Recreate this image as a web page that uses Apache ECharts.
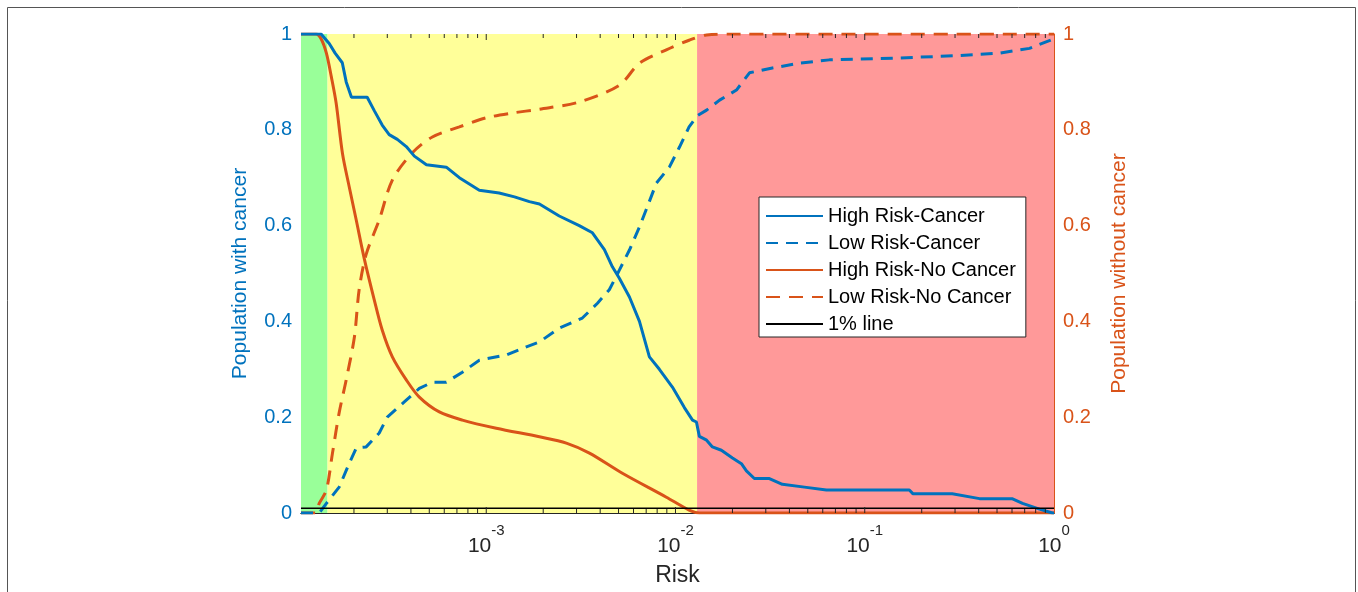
<!DOCTYPE html>
<html><head><meta charset="utf-8">
<script src="https://cdn.jsdelivr.net/npm/echarts@6/dist/echarts.min.js"></script>
<style>html,body{margin:0;padding:0;background:#fff}#c{width:1358px;height:592px}</style>
</head><body><div id="c"></div>
<script>
const xMin = 1.05e-4, xMax = 1;
const zoneEdges = [1.05e-4, 1.45e-4, 1.3e-2, 1];
const zoneColors = ['#99FF99', '#FFFF99', '#FF9999'];
const onePercent = 0.01;
const yTicks = [0, 0.2, 0.4, 0.6, 0.8, 1];
const majorTicks = [1e-3, 1e-2, 1e-1];
const minorMult = [2, 3, 4, 5, 6, 7, 8, 9];
const decades = [1e-4, 1e-3, 1e-2, 1e-1];

const hrcRisk = [1.05e-4, 1.34e-4, 1.48e-4, 1.59e-4, 1.735e-4, 1.82e-4, 1.94e-4, 2.35e-4, 2.56e-4, 2.82e-4, 3.07e-4, 3.39e-4, 3.78e-4, 4.17e-4, 4.83e-4, 6.15e-4, 7.21e-4, 9.19e-4, 1.17e-3, 1.41e-3, 1.69e-3, 1.91e-3, 2.43e-3, 3.1e-3, 3.64e-3, 4.21e-3, 4.64e-3, 5.05e-3, 5.71e-3, 6.45e-3, 7.28e-3, 8.22e-3, 9.63e-3, 1.114e-2, 1.23e-2, 1.29e-2, 1.337e-2, 1.46e-2, 1.567e-2, 1.748e-2, 2.0e-2, 2.23e-2, 2.37e-2, 2.61e-2, 3.135e-2, 3.67e-2, 4.8e-2, 6.27e-2, 0.172, 0.18, 0.29, 0.404, 0.60, 0.682, 0.838, 0.982, 1];
const hrcVal = [1, 1, 0.98, 0.96, 0.94, 0.90, 0.868, 0.868, 0.84, 0.81, 0.79, 0.78, 0.765, 0.745, 0.727, 0.722, 0.70, 0.674, 0.668, 0.66, 0.65, 0.645, 0.62, 0.60, 0.585, 0.55, 0.514, 0.49, 0.451, 0.40, 0.326, 0.30, 0.263, 0.22, 0.194, 0.19, 0.16, 0.152, 0.138, 0.131, 0.115, 0.103, 0.088, 0.072, 0.072, 0.06, 0.054, 0.048, 0.048, 0.04, 0.04, 0.03, 0.03, 0.02, 0.008, 0.0, 0];

const lrcRisk = [1.05e-4, 1.31e-4, 1.43e-4, 1.67e-4, 1.89e-4, 2.06e-4, 2.32e-4, 2.72e-4, 3.0e-4, 3.69e-4, 4.43e-4, 5.19e-4, 6.15e-4, 7.48e-4, 9.19e-4, 1.28e-3, 1.63e-3, 1.91e-3, 2.43e-3, 3.22e-3, 3.87e-3, 4.47e-3, 5.05e-3, 5.71e-3, 6.45e-3, 7.11e-3, 7.93e-3, 9.28e-3, 1.05e-2, 1.18e-2, 1.31e-2, 1.46e-2, 1.71e-2, 2.1e-2, 2.46e-2, 3.25e-2, 4.52e-2, 6.51e-2, 0.153, 0.317, 0.515, 0.742, 1];
const lrcVal = [0, 0, 0.02, 0.054, 0.104, 0.136, 0.138, 0.167, 0.2, 0.232, 0.26, 0.273, 0.273, 0.294, 0.319, 0.33, 0.347, 0.357, 0.386, 0.407, 0.438, 0.466, 0.507, 0.549, 0.597, 0.64, 0.689, 0.722, 0.764, 0.806, 0.83, 0.841, 0.862, 0.883, 0.919, 0.929, 0.939, 0.946, 0.95, 0.955, 0.96, 0.97, 0.99];

const hrncRisk = [1.05e-4, 1.26e-4, 1.34e-4, 1.43e-4, 1.52e-4, 1.61e-4, 1.74e-4, 1.89e-4, 2.06e-4, 2.27e-4, 2.56e-4, 2.82e-4, 3.19e-4, 3.78e-4, 4.43e-4, 5.65e-4, 7.48e-4, 1.13e-3, 1.91e-3, 2.65e-3, 3.51e-3, 5.24e-3, 8.95e-3, 1.18e-2, 1.34e-2, 1];
const hrncVal = [1, 1, 0.99, 0.96, 0.91, 0.856, 0.75, 0.68, 0.61, 0.53, 0.445, 0.382, 0.326, 0.278, 0.242, 0.211, 0.194, 0.177, 0.159, 0.146, 0.125, 0.083, 0.033, 0.006, 0, 0];

const lrncRisk = [1.05e-4, 1.25e-4, 1.31e-4, 1.43e-4, 1.54e-4, 1.67e-4, 1.82e-4, 2.01e-4, 2.13e-4, 2.32e-4, 2.72e-4, 3.19e-4, 4.07e-4, 5.19e-4, 7.21e-4, 1.0e-3, 1.37e-3, 1.91e-3, 3.1e-3, 5.05e-3, 6.45e-3, 8.95e-3, 1.18e-2, 1.46e-2, 2.18e-2, 1];
const lrncVal = [0, 0, 0.02, 0.048, 0.125, 0.209, 0.278, 0.367, 0.466, 0.54, 0.612, 0.695, 0.752, 0.785, 0.806, 0.825, 0.835, 0.843, 0.858, 0.893, 0.939, 0.967, 0.987, 0.998, 1, 1];

const names = ['High Risk-Cancer', 'Low Risk-Cancer', 'High Risk-No Cancer', 'Low Risk-No Cancer', '1% line'];
const BLUE = '#0072BD', ORANGE = '#D95319', AX = '#262626';
const FONT = '"Liberation Sans", Arial, Helvetica, sans-serif';

const zip = (a, b) => a.map((v, i) => [v, b[i]]);
const tickData = [];
majorTicks.forEach(v => tickData.push([v, 1]));
decades.forEach(d => minorMult.forEach(m => { const v = d * m; if (v > xMin && v < xMax) tickData.push([v, 0]); }));

const chart = echarts.init(document.getElementById('c'));
chart.setOption({
  animation: false,
  backgroundColor: '#fff',
  textStyle: { fontFamily: FONT },
  graphic: [{ type: 'rect', shape: { x: 7.5, y: 7.5, width: 1348, height: 620 }, style: { fill: 'none', stroke: '#555', lineWidth: 1 }, silent: true, z: 100 }],
  grid: { left: 301, right: 304, top: 34, bottom: 79, containLabel: false },
  legend: {
    data: names, orient: 'vertical', left: 759, top: 197,
    itemWidth: 57, itemHeight: 14, itemGap: 7, itemStyle: { opacity: 0 },
    backgroundColor: '#fff', borderColor: AX, borderWidth: 1, padding: [9, 10, 3, 6],
    textStyle: { fontSize: 20, color: '#000', fontFamily: FONT, lineHeight: 20 },
    selectedMode: false
  },
  xAxis: [{
    type: 'log', logBase: 10, min: xMin, max: xMax, position: 'bottom',
    name: 'Risk', nameLocation: 'middle', nameGap: 51,
    nameTextStyle: { fontSize: 23, color: AX, fontFamily: FONT },
    axisLine: { show: true, lineStyle: { color: AX, width: 1 } },
    axisTick: { show: false }, splitLine: { show: false }, minorTick: { show: false },
    axisLabel: {
      margin: 10, color: AX, showMinLabel: true, showMaxLabel: true,
      formatter: v => { const l = Math.log10(v); const e = Math.round(l); if (Math.abs(l - e) > 1e-6) return ''; return '{b|10}{s|' + e + '}'; },
      rich: {
        b: { fontSize: 21, color: AX, fontFamily: FONT, lineHeight: 34, verticalAlign: 'bottom' },
        s: { fontSize: 15, color: AX, fontFamily: FONT, lineHeight: 12, verticalAlign: 'top' }
      }
    }
  }, {
    type: 'log', logBase: 10, min: xMin, max: xMax, position: 'top',
    axisLine: { show: true, lineStyle: { color: AX, width: 1 } },
    axisTick: { show: false }, axisLabel: { show: false }, splitLine: { show: false }
  }],
  yAxis: [{
    type: 'value', min: 0, max: 1, interval: 0.2, position: 'left',
    name: 'Population with cancer', nameLocation: 'middle', nameGap: 50,
    nameTextStyle: { fontSize: 21, color: BLUE, fontFamily: FONT },
    axisLine: { show: true, lineStyle: { color: BLUE, width: 1 } },
    axisTick: { show: true, inside: true, length: 5, lineStyle: { color: BLUE } },
    axisLabel: { color: BLUE, fontSize: 20, margin: 9, fontFamily: FONT },
    splitLine: { show: false }
  }, {
    type: 'value', min: 0, max: 1, interval: 0.2, position: 'right',
    name: 'Population without cancer', nameLocation: 'middle', nameGap: 55,
    nameTextStyle: { fontSize: 21, color: ORANGE, fontFamily: FONT },
    axisLine: { show: true, lineStyle: { color: ORANGE, width: 1 } },
    axisTick: { show: true, inside: true, length: 5, lineStyle: { color: ORANGE } },
    axisLabel: { color: ORANGE, fontSize: 20, margin: 9, fontFamily: FONT },
    splitLine: { show: false }
  }],
  series: [
    {
      name: names[0], type: 'line', xAxisIndex: 0, yAxisIndex: 0, data: zip(hrcRisk, hrcVal),
      symbol: 'none', showSymbol: false, color: BLUE, lineStyle: { color: BLUE, width: 3 }, z: 4
    },
    {
      name: names[1], type: 'line', xAxisIndex: 0, yAxisIndex: 0, data: zip(lrcRisk, lrcVal),
      symbol: 'none', showSymbol: false, color: BLUE, lineStyle: { color: BLUE, width: 3, type: [12, 8] }, z: 4
    },
    {
      name: names[2], type: 'line', xAxisIndex: 0, yAxisIndex: 1, data: zip(hrncRisk, hrncVal),
      symbol: 'none', showSymbol: false, smooth: 0.3, color: ORANGE, lineStyle: { color: ORANGE, width: 3 }, z: 3
    },
    {
      name: names[3], type: 'line', xAxisIndex: 0, yAxisIndex: 1, data: zip(lrncRisk, lrncVal),
      symbol: 'none', showSymbol: false, smooth: 0.3, color: ORANGE, lineStyle: { color: ORANGE, width: 3, type: [14, 9] }, z: 3
    },
    {
      name: names[4], type: 'line', xAxisIndex: 0, yAxisIndex: 0, data: [[xMin, onePercent], [xMax, onePercent]],
      symbol: 'none', showSymbol: false, color: '#000', lineStyle: { color: '#000', width: 1.5 }, z: 5,
      markArea: {
        silent: true,
        data: zoneColors.map((c, i) => [{ xAxis: zoneEdges[i], itemStyle: { color: c } }, { xAxis: zoneEdges[i + 1] }])
      }
    },
    {
      name: 'ticks', type: 'custom', xAxisIndex: 0, yAxisIndex: 0, data: tickData, z: 6, silent: true,
      renderItem: (params, api) => {
        const v = api.value(0);
        const len = api.value(1) ? 6 : 4;
        const pb = api.coord([v, 0]);
        const pt = api.coord([v, 1]);
        return {
          type: 'group', children: [
            { type: 'line', shape: { x1: pb[0], y1: pb[1], x2: pb[0], y2: pb[1] - len }, style: { stroke: AX, lineWidth: 1 } },
            { type: 'line', shape: { x1: pt[0], y1: pt[1], x2: pt[0], y2: pt[1] + len }, style: { stroke: AX, lineWidth: 1 } }
          ]
        };
      }
    }
  ]
});
</script></body></html>
